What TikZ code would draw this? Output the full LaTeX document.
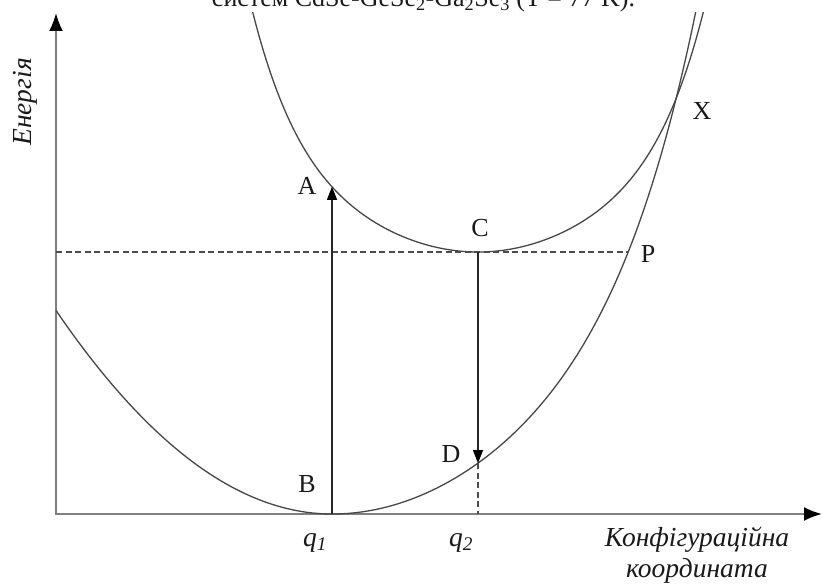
\documentclass[tikz,border=0pt]{standalone}
\usepackage{fontspec}
\setmainfont{Liberation Serif}
\usetikzlibrary{arrows.meta}
\begin{document}
\begin{tikzpicture}[x=1pt,y=1pt,
  axis/.style={draw=black!50, line width=2pt},
  curve/.style={draw=black!72, line width=1.3pt},
  trans/.style={draw=black!85, line width=1.2pt, -{Triangle[length=13pt,width=10pt,color=black]}},
  guide/.style={draw=black!70, line width=1.1pt, dash pattern=on 6pt off 3.5pt},
  lbl/.style={font=\fontsize{26}{30}\selectfont, inner sep=0pt, text=black!90},
  ilbl/.style={font=\fontsize{27.5}{31}\selectfont\itshape, inner sep=0pt, text=black!90},
]
\clip (0,0) rectangle (823,-585);
% title (cut off at the top, as in the reference)
\node[lbl, anchor=base] (title) at (423.5,-7) {систем CdSe-GeSe\textsubscript{2}-Ga\textsubscript{2}Se\textsubscript{3} (T = 77 K).};
% axes
\coordinate (O) at (56,-514);
\coordinate (ytip) at (56,-13);
\coordinate (xtip) at (822,-514);
\draw[axis, {Latex[length=18pt,width=14pt,color=black]}-{Latex[length=18pt,width=14pt,color=black]}] (ytip) -- (O) -- (xtip);
% key points
\coordinate (B) at (332,-514);
\coordinate (A) at (332,-186.8);
\coordinate (C) at (478,-252);
\coordinate (D) at (478,-463.1);
\coordinate (Q2) at (478,-514);
\coordinate (L) at (56,-252);
\coordinate (P) at (628.2,-252);
\coordinate (X) at (676,-99);
% curves
\begin{scope}
\clip (0,-13) rectangle (823,-585);
\draw[curve] plot[domain=-2.32:2.32, samples=140] ({478+100*\x}, {-252+27*\x*\x+0.786*(\x*\x)^3});
\draw[curve] plot[domain=-2.76:0, samples=80] ({332+100*\x}, {-514+27*\x*\x+0.1*\x*\x*\x})
  -- plot[domain=0:3.7, samples=140] ({332+100*\x}, {-514+23.5*\x*\x+0.0826*(\x*\x)^3});
\end{scope}
% guides
\draw[guide] (L) -- (P);
\draw[guide] (D) -- (Q2);
% transitions
\draw[trans] (B) -- (A);
\draw[trans] (C) -- (D);
% labels
\node[lbl] (labA) at (307,-186) {A};
\node[lbl] (labB) at (307,-484) {B};
\node[lbl] (labC) at (480,-228) {C};
\node[lbl] (labD) at (451,-454) {D};
\node[lbl] (labP) at (648,-254) {P};
\node[lbl] (labX) at (702,-111) {X};
\node[ilbl] (labq1) at (315,-543) {q\textsubscript{1}};
\node[ilbl] (labq2) at (461,-543) {q\textsubscript{2}};
\node[ilbl, rotate=90] (ylab) at (25,-102) {Енергія};
\node[ilbl, align=center] (xlab) at (697,-555) {Конфігураційна\\координата};
\end{tikzpicture}
\end{document}
